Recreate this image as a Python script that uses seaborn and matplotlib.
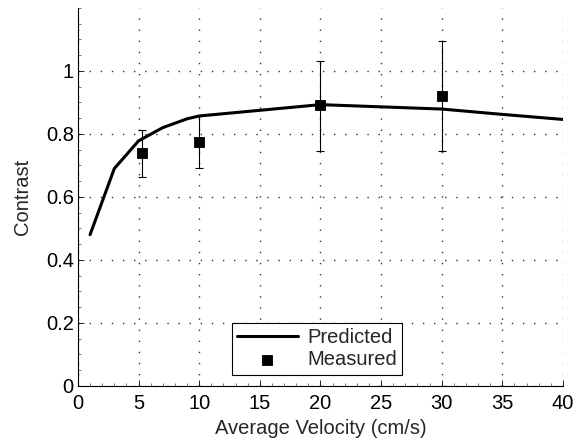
import matplotlib
matplotlib.use("Agg")
import matplotlib.pyplot as plt
from matplotlib.ticker import MultipleLocator
import seaborn as sns
import pandas as pd

pred_x = [1, 3, 5, 7, 9, 10, 20, 30, 35, 40]
pred_y = [0.48, 0.69, 0.778, 0.82, 0.848, 0.857, 0.893, 0.879, 0.862, 0.846]
meas_x = [5.3, 10, 20, 30]
meas_y = [0.74, 0.775, 0.892, 0.921]
meas_lo = [0.664, 0.692, 0.746, 0.746]
meas_hi = [0.813, 0.858, 1.032, 1.096]

sns.set_style("white")
plt.rcParams['font.family'] = ['Liberation Sans', 'DejaVu Sans']
FS = 14.5

fig = plt.figure(figsize=(5.73, 4.42), dpi=100)
ax = fig.add_axes([0.136, 0.127, 0.8465, 0.855])

pred = pd.DataFrame({"x": pred_x, "y": pred_y})
meas = pd.DataFrame({"x": meas_x, "y": meas_y})

yerr = [[m - l for m, l in zip(meas_y, meas_lo)], [h - m for m, h in zip(meas_y, meas_hi)]]
ax.errorbar(meas_x, meas_y, yerr=yerr, fmt='none', ecolor='black', elinewidth=0.8, capsize=3, capthick=0.8, zorder=3)
sns.lineplot(data=pred, x="x", y="y", ax=ax, color='black', linewidth=2.2, label='Predicted', zorder=4)
sns.scatterplot(data=meas, x="x", y="y", ax=ax, color='black', marker='s', s=60, edgecolor='black', label='Measured', zorder=5)

ax.set_xlim(0, 40)
ax.set_ylim(0, 1.2)
ax.set_xticks(range(0, 41, 5))
ax.set_yticks([0, 0.2, 0.4, 0.6, 0.8, 1.0])
ax.set_yticklabels(['0', '0.2', '0.4', '0.6', '0.8', '1'])
ax.xaxis.set_minor_locator(MultipleLocator(1))
ax.yaxis.set_minor_locator(MultipleLocator(0.05))
ax.set_xlabel('Average Velocity (cm/s)', fontsize=FS, labelpad=4)
ax.set_ylabel('Contrast', fontsize=FS, labelpad=10)
ax.tick_params(axis='x', which='major', pad=6)
ax.tick_params(axis='y', which='major', pad=3)
ax.tick_params(axis='both', which='major', labelsize=FS, direction='in', length=4, width=0.6,
               bottom=True, left=True, colors='black')
ax.tick_params(axis='both', which='minor', direction='in', length=2, width=0.5, bottom=True, left=True, colors='#444444')
ax.grid(True, which='major', linestyle=(0, (1, 7)), color='#333333', linewidth=1.0)
for s in ['top', 'right']:
    ax.spines[s].set_visible(False)
for s in ['left', 'bottom']:
    ax.spines[s].set_color('black')
    ax.spines[s].set_linewidth(0.8)

leg = ax.legend(loc='lower left', bbox_to_anchor=(0.318, 0.03), fontsize=FS, frameon=True, fancybox=False,
                edgecolor='black', framealpha=1, handlelength=3.0, handletextpad=0.5,
                borderpad=0.25, labelspacing=0.15, borderaxespad=0)
leg.get_frame().set_linewidth(0.8)

fig.savefig('out.png', dpi=100)
